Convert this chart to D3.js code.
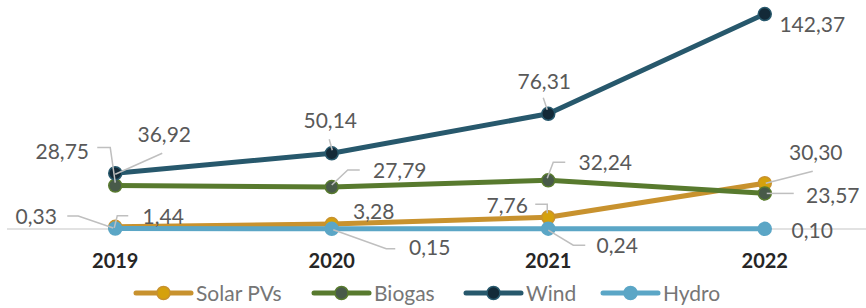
<!DOCTYPE html>
<html>
<head>
<meta charset="utf-8">
<script src="https://cdn.jsdelivr.net/npm/d3@7"></script>
<style>
  body { margin: 0; background: #fff; }
  svg { font-family: Lato, "Open Sans", sans-serif; }
</style>
</head>
<body>
<svg width="866" height="308"></svg>
<script>
// Data
const years = ["2019", "2020", "2021", "2022"];
const solarPVs = [1.44, 3.28, 7.76, 30.30];
const biogas = [28.75, 27.79, 32.24, 23.57];
const wind = [36.92, 50.14, 76.31, 142.37];
const hydro = [0.33, 0.15, 0.24, 0.10];
const seriesNames = ["Solar PVs", "Biogas", "Wind", "Hydro"];

// Label placement: [dx, dy] from the point to the text (middle / baseline),
// plus optional leader polyline relative to the point
const labelLayout = {
    "Solar PVs": [
        {dx: 48, dy: -3, lead: [[13, -11], [2, -11], [-1, 1]]},
        {dx: 42, dy: -5},
        {dx: -41, dy: -4, lead: [[-13, -13], [-1, -13], [-1, -4]]},
        {dx: 51, dy: -23, lead: [[1, 0], [48, -12]]}
    ],
    "Biogas": [
        {dx: -53, dy: -27, lead: [[-18, -38], [-5, -38], [0, -3]]},
        {dx: 68, dy: -9, lead: [[28, -17], [16, -17], [0, -2]]},
        {dx: 57, dy: -10, lead: [[17, -18], [5, -18], [-1, -2]]},
        {dx: 68, dy: 9.5, lead: [[2, 0], [29, 0]]}
    ],
    "Wind": [
        {dx: 49, dy: -31, lead: [[0, 1], [47, -20]]},
        {dx: -1.5, dy: -25, lead: [[-2.5, -14], [0.5, -3]]},
        {dx: -4, dy: -25, lead: [[-5, -16], [-1, -4]]},
        {dx: 47.5, dy: 18}
    ],
    "Hydro": [
        {dx: -79, dy: -5, lead: [[-48, -12.5], [-37, -12.5], [-2, -0.5]]},
        {dx: 98, dy: 26, lead: [[1.5, 1], [54.5, 20], [63.5, 20]]},
        {dx: 69, dy: 24.5, lead: [[0, 1.5], [25, 16.5], [37, 16.5]]},
        {dx: 47.5, dy: 9}
    ]
};

const colors = {
    "Solar PVs": {line: "#c8922e", fill: "#d5a10c"},
    "Biogas": {line: "#587a2e", fill: "#485a49"},
    "Wind": {line: "#27586c", fill: "#132a38"},
    "Hydro": {line: "#5ba6c6", fill: "#5ba6c6"}
};

const series = [solarPVs, biogas, wind, hydro].map((vals, i) => ({
    name: seriesNames[i],
    values: vals.map((v, j) => ({year: years[j], value: v}))
}));

const svg = d3.select("svg");

const x = d3.scalePoint().domain(years).range([7, 873]).padding(0.5);
const y = d3.scaleLinear().domain([0, 150]).range([229, 2.5]);

// baseline
svg.append("line")
    .attr("x1", 7).attr("x2", 866)
    .attr("y1", y(0)).attr("y2", y(0))
    .attr("stroke", "#d9d9d9")
    .attr("stroke-width", 1.5);

// year labels
svg.append("g")
    .selectAll("text")
    .data(years)
    .join("text")
    .attr("x", d => x(d))
    .attr("y", 268)
    .attr("text-anchor", "middle")
    .attr("font-size", 20)
    .attr("font-weight", "bold")
    .attr("fill", "#262626")
    .text(d => d);

const line = d3.line().x(d => x(d.year)).y(d => y(d.value));

const lines = svg.append("g");
series.forEach(s => {
    const g = lines.append("g");
    g.append("path")
        .attr("d", line(s.values))
        .attr("fill", "none")
        .attr("stroke", colors[s.name].line)
        .attr("stroke-width", 5)
        .attr("stroke-linejoin", "round");
    g.selectAll("circle")
        .data(s.values)
        .join("circle")
        .attr("cx", d => x(d.year))
        .attr("cy", d => y(d.value))
        .attr("r", 6.5)
        .attr("fill", colors[s.name].fill)
        .attr("stroke", colors[s.name].line)
        .attr("stroke-width", 1.5);
});

// data labels with leaders
const labels = svg.append("g");
series.forEach(s => {
    s.values.forEach((d, i) => {
        const px = x(d.year), py = y(d.value);
        const lay = labelLayout[s.name][i];
        if (lay.lead) {
            labels.append("polyline")
                .attr("points", lay.lead.map(p => [px + p[0], py + p[1]].join(",")).join(" "))
                .attr("fill", "none")
                .attr("stroke", "#bfbfbf")
                .attr("stroke-width", 1.5);
        }
        labels.append("text")
            .attr("x", px + lay.dx)
            .attr("y", py + lay.dy)
            .attr("text-anchor", "middle")
            .attr("font-size", 21)
            .attr("fill", "#595959")
            .text(d3.format(".2f")(d.value).replace(".", ","));
    });
});

// legend
const legendX = [136, 314, 466, 603];
const legend = svg.append("g")
    .selectAll("g")
    .data(seriesNames)
    .join("g")
    .attr("transform", (d, i) => `translate(${legendX[i]},293)`);

legend.append("line")
    .attr("x1", 0).attr("x2", 55)
    .attr("stroke", d => colors[d].line)
    .attr("stroke-width", 5)
    .attr("stroke-linecap", "round");
legend.append("circle")
    .attr("cx", 27.5)
    .attr("r", 6.5)
    .attr("fill", d => colors[d].fill)
    .attr("stroke", d => colors[d].line)
    .attr("stroke-width", 1.5);
legend.append("text")
    .attr("x", 60)
    .attr("y", 8)
    .attr("font-size", 21)
    .attr("fill", "#767676")
    .text(d => d);
</script>
</body>
</html>
